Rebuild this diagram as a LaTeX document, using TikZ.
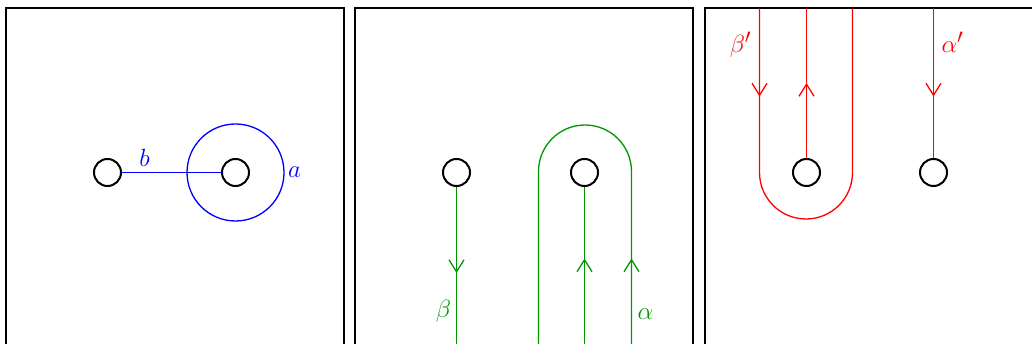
\documentclass[tikz,border=0pt]{standalone}
\usetikzlibrary{arrows.meta,decorations.markings}
\definecolor{curveblue}{RGB}{0,0,255}
\definecolor{curvegreen}{RGB}{0,150,0}
\definecolor{curvered}{RGB}{255,0,0}
\tikzset{
  panel/.style={draw=black,line width=2pt},
  puncture/.style={circle,draw=black,line width=2pt,minimum size=27pt,inner sep=0pt},
  curve/.style={line width=1.3pt},
  lbl/.style={inner sep=0pt,font=\fontsize{31}{37}\selectfont},
  arrowat/.style={postaction={decorate},
    decoration={markings,mark=at position #1 with
      {\arrow[line width=1.3pt]{Straight Barb[length=12pt,width=15pt]}}}}
}
\begin{document}
\begin{tikzpicture}[x=1pt,y=-1pt]
  \clip (0,0) rectangle (1032,344);

  % three panels, cut off at the lower edge
  \draw[panel] (6,400) -- (6,8) -- (344,8) -- (344,400);
  \draw[panel] (355,400) -- (355,8) -- (693,8) -- (693,400);
  \draw[panel] (705,400) -- (705,8) -- (1100,8);

  \begin{scope}[shift={(0.5,0.5)}]
  % punctures
  \node[puncture] (p1) at (107,172) {};
  \node[puncture] (p2) at (235,172) {};
  \node[puncture] (q1) at (456,172) {};
  \node[puncture] (q2) at (584,172) {};
  \node[puncture] (r1) at (806,172) {};
  \node[puncture] (r2) at (933,172) {};

  % panel 1: arc b and loop a
  \draw[curve,curveblue] (p1) -- (p2);
  \draw[curve,curveblue] (p2.center) circle[radius=48.5];
  \node[lbl,text=curveblue] (lb) at (144,157) {$b$};
  \node[lbl,text=curveblue] (la) at (294,172) {$a$};

  % panel 2: beta and alpha
  \coordinate (qb) at (456,360);
  \coordinate (qm) at (584,360);
  \draw[curve,curvegreen,arrowat=86pt] (q1) -- (qb);
  \draw[curve,curvegreen,arrowat=102pt] (qm) -- (q2);
  \draw[curve,curvegreen,arrowat=102pt] (631,360) -- (631,171)
    arc[start angle=0,end angle=-180,radius=46.5] -- (538,360);
  \node[lbl,text=curvegreen] (lbeta) at (443,311) {$\beta$};
  \node[lbl,text=curvegreen] (lalpha) at (645,314) {$\alpha$};

  % panel 3: beta' and alpha', running down from the top edge
  \coordinate (rt) at (806,8);
  \coordinate (rs) at (933,8);
  \draw[curve,curvered,arrowat=88pt] (759,8) -- (759,172)
    arc[start angle=180,end angle=0,radius=46.5] -- (852,8);
  \draw[curve,curvered,arrowat=75pt] (r1) -- (rt);
  \draw[curve,curvered,arrowat=88pt] (rs) -- (r2);
  \node[lbl,text=curvered] (lbetap) at (740,44) {$\beta'$};
  \node[lbl,text=curvered] (lalphap) at (952,42) {$\alpha'$};
  \end{scope}
\end{tikzpicture}
\end{document}
